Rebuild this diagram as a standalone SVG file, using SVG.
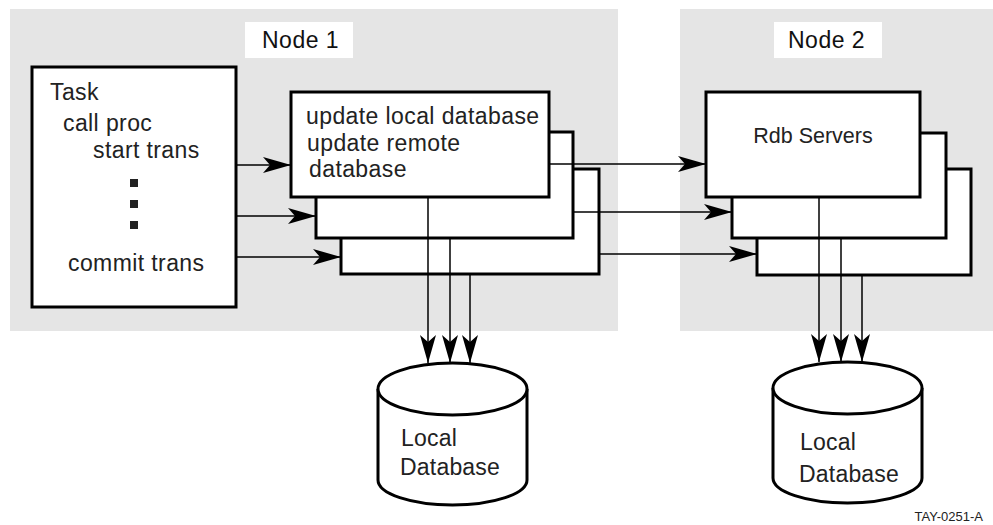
<svg xmlns="http://www.w3.org/2000/svg" width="993" height="525" viewBox="0 0 993 525">
<style>
.panel{fill:#e5e5e5;stroke:none}
.label{fill:#fff;stroke:none}
.box{fill:#fff;stroke:#000;stroke-width:3}
.t{font-family:"Liberation Sans",Arial,sans-serif;font-size:23px;fill:#222;letter-spacing:0.4px}
.n{font-family:"Liberation Sans",Arial,sans-serif;font-size:23px;fill:#111;letter-spacing:0.5px}
.d{font-family:"Liberation Sans",Arial,sans-serif;font-size:23px;fill:#222;letter-spacing:0.2px}
.c{stroke:#000;stroke-width:1.5;fill:none;marker-end:url(#ah)}
.dot{fill:#222}
</style>
<defs>
<marker id="ah" viewBox="0 0 28 18" refX="28" refY="9" markerWidth="28" markerHeight="18" markerUnits="userSpaceOnUse" orient="auto">
<path d="M0,1 L28,9 L0,17 L7,9 Z" fill="#000"/>
</marker>
</defs>
<g id="node1-panel">
<rect class="panel" x="10" y="9" width="608" height="322"/>
<rect class="label" x="245" y="22" width="108" height="36"/>
<text class="n" x="262" y="48">Node 1</text>
</g>
<g id="node2-panel">
<rect class="panel" x="680" y="9" width="313" height="322"/>
<rect class="label" x="774" y="22" width="108" height="36"/>
<text class="n" x="788" y="48">Node 2</text>
</g>
<g id="task">
<rect class="box" x="32" y="67" width="204" height="240"/>
<text class="t" x="50" y="100">Task</text>
<text class="t" x="63" y="131">call proc</text>
<text class="t" x="93" y="158">start trans</text>
<rect class="dot" x="130" y="179" width="8" height="8"/>
<rect class="dot" x="130" y="200" width="8" height="8"/>
<rect class="dot" x="130" y="221" width="8" height="8"/>
<text class="t" x="68" y="271">commit trans</text>
</g>
<g id="procs">
<rect class="box" x="341" y="169" width="258" height="105"/>
<rect class="box" x="316" y="132" width="257" height="106"/>
<rect class="box" x="291" y="92" width="258" height="105"/>
<text class="t" x="306" y="124">update local database</text>
<text class="t" x="307" y="151">update remote</text>
<text class="t" x="309" y="177">database</text>
</g>
<g id="servers">
<rect class="box" x="757" y="169" width="214" height="106"/>
<rect class="box" x="732" y="133" width="214" height="105"/>
<rect class="box" x="706" y="92" width="214" height="105"/>
<text class="t" x="813" y="143" text-anchor="middle" style="letter-spacing:0;font-size:21.5px">Rdb Servers</text>
</g>
<g id="db1">
<path d="M378,389 L378,480 A74.5,25 0 0 0 527,480 L527,389" fill="#fff" stroke="#000" stroke-width="3"/>
<ellipse cx="452.5" cy="389" rx="74.5" ry="26" fill="#fff" stroke="#000" stroke-width="3"/>
<text class="d" x="401" y="446">Local</text>
<text class="d" x="400" y="475">Database</text>
</g>
<g id="db2">
<path d="M773,388 L773,478 A74.5,25 0 0 0 922,478 L922,388" fill="#fff" stroke="#000" stroke-width="3"/>
<ellipse cx="847.5" cy="388" rx="74.5" ry="26" fill="#fff" stroke="#000" stroke-width="3"/>
<text class="d" x="800" y="450">Local</text>
<text class="d" x="799" y="482">Database</text>
</g>
<g id="connectors">
<line class="c" x1="237" y1="165" x2="291" y2="165"/>
<line class="c" x1="237" y1="216" x2="316" y2="216"/>
<line class="c" x1="237" y1="257" x2="341" y2="257"/>
<line class="c" x1="549" y1="164" x2="706" y2="164"/>
<line class="c" x1="573" y1="212" x2="732" y2="212"/>
<line class="c" x1="599" y1="254" x2="757" y2="254"/>
<line class="c" x1="428" y1="197" x2="428" y2="363"/>
<line class="c" x1="450" y1="238" x2="450" y2="363"/>
<line class="c" x1="470" y1="274" x2="470" y2="363"/>
<line class="c" x1="819" y1="197" x2="819" y2="362"/>
<line class="c" x1="841" y1="238" x2="841" y2="362"/>
<line class="c" x1="862" y1="275" x2="862" y2="362"/>
</g>
<text x="983" y="521" text-anchor="end" style="font-family:'Liberation Sans',Arial,sans-serif;font-size:13px;fill:#222">TAY-0251-A</text>
</svg>
